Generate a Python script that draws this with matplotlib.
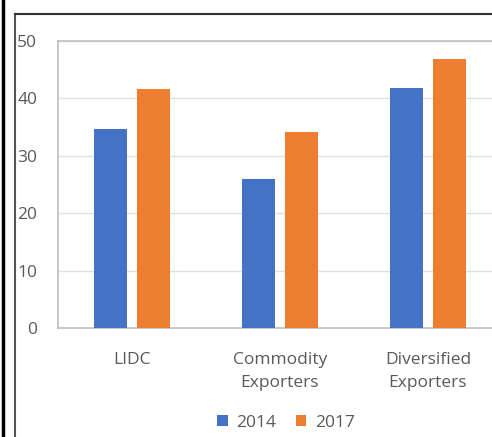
import matplotlib
matplotlib.use("Agg")
import matplotlib.pyplot as plt
from matplotlib.lines import Line2D
from matplotlib.patches import Patch
import numpy as np

plt.rcParams['font.family'] = ['Open Sans', 'DejaVu Sans']

categories = ["LIDC", "Commodity\nExporters", "Diversified\nExporters"]
series_names = ["2014", "2017"]
values_2014 = [34.7, 25.9, 41.8]
values_2017 = [41.6, 34.1, 46.9]
y_ticks = [0, 10, 20, 30, 40, 50]

blue = "#4472C4"
orange = "#ED7D31"
text_color = "#595959"

W, H = 492, 437
fig = plt.figure(figsize=(W / 100, H / 100), dpi=100)

# plot area (extends slightly past the right edge of the canvas)
left, right, top, bottom = 58, 502, 41, 328
ax = fig.add_axes([left / W, 1 - bottom / H, (right - left) / W, (bottom - top) / H])

x = np.arange(len(categories))
bw = 0.222
off = 0.143
ax.bar(x - off, values_2014, bw, color=blue, zorder=3)
ax.bar(x + off, values_2017, bw, color=orange, zorder=3)

ax.set_xlim(-0.5, len(categories) - 0.5)
ax.set_ylim(0, 50)
ax.set_yticks(y_ticks)
ax.set_yticklabels([str(t) for t in y_ticks])
ax.set_xticks(x)
ax.set_xticklabels(categories, linespacing=1.6, va="top")

ax.grid(axis="y", color="#e0e0e0", linewidth=1, zorder=0)
for s in ax.spines.values():
    s.set_color("#bfbfbf")
    s.set_linewidth(1.2)

ax.tick_params(axis="both", length=0, labelsize=12.5, colors=text_color)
ax.tick_params(axis="y", pad=15)
ax.tick_params(axis="x", pad=17)

# legend below the plot
handles = [Patch(facecolor=blue, edgecolor="none"), Patch(facecolor=orange, edgecolor="none")]
leg = fig.legend(handles, series_names, loc="center", ncol=2,
                 bbox_to_anchor=(286 / W, 1 - 423 / H), frameon=False,
                 fontsize=12.5, handlelength=0.6, handleheight=0.6,
                 handletextpad=0.5, columnspacing=1.1)
for t in leg.get_texts():
    t.set_color(text_color)

# chart frame lines
fig.add_artist(Line2D([3 / W, 3 / W], [0, 1], color="black", linewidth=2.5,
                      transform=fig.transFigure))
fig.add_artist(Line2D([15.5 / W, 15.5 / W], [0, 1 - 14 / H], color="#555555", linewidth=1.5,
                      transform=fig.transFigure))
fig.add_artist(Line2D([15.5 / W, 1], [1 - 14 / H, 1 - 14 / H], color="#333333", linewidth=1.5,
                      transform=fig.transFigure))

fig.savefig("out.png", dpi=100)
